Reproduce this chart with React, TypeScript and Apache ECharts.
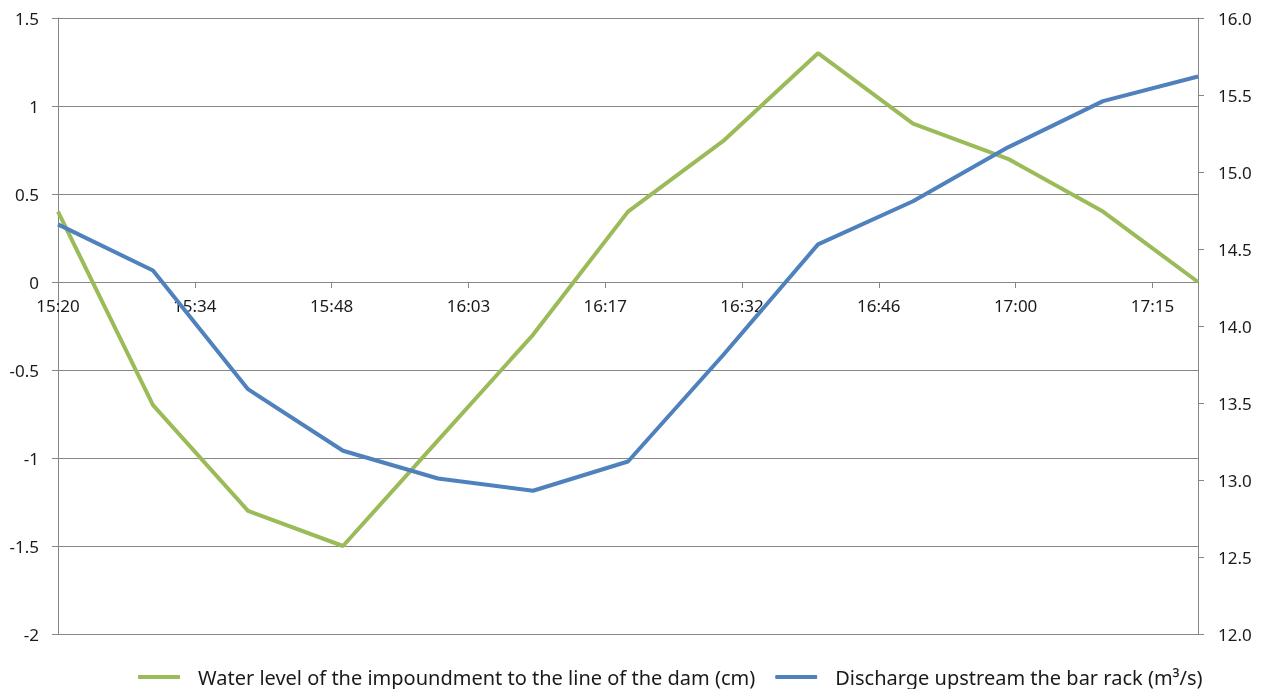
import React, { useEffect, useRef } from "react";
import * as echarts from "echarts";

const times = ["15:20", "15:30", "15:40", "15:50", "16:00", "16:10", "16:20", "16:30", "16:40", "16:50", "17:00", "17:10", "17:20"];
const waterLevel = [0.4, -0.7, -1.3, -1.5, -0.9, -0.3, 0.4, 0.8, 1.3, 0.9, 0.7, 0.4, 0.0];
const discharge = [14.66, 14.36, 13.59, 13.19, 13.01, 12.93, 13.12, 13.81, 14.53, 14.81, 15.16, 15.46, 15.62];
const seriesNames = ["Water level of the impoundment to the line of the dam (cm)", "Discharge upstream the bar rack (m³/s)"];

const START = 15 * 60 + 20;
const toMin = (t: string) => {
  const [h, m] = t.split(":").map(Number);
  return h * 60 + m - START;
};
const fmtTime = (v: number) => {
  const total = Math.floor(v + START + 1e-6);
  const h = Math.floor(total / 60);
  const m = total % 60;
  return `${h}:${m < 10 ? "0" : ""}${m}`;
};

const FONT = "Noto Sans";
const GRAY = "#868686";
const TXT = "#1a1a1a";

export default function App() {
  const ref = useRef<HTMLDivElement>(null);
  useEffect(() => {
    if (!ref.current) return;
    const chart = echarts.init(ref.current, undefined, { renderer: "svg" });
    chart.setOption({
      animation: false,
      textStyle: { fontFamily: FONT },
      grid: { left: 58, right: 73, top: 18, bottom: 55, containLabel: false },
      legend: {
        left: 138,
        top: 666,
        padding: 0,
        itemWidth: 42,
        itemHeight: 4,
        itemGap: 20,
        icon: "roundRect",
        textStyle: { fontFamily: FONT, fontSize: 20, lineHeight: 22, color: TXT, padding: [0, 0, 0, 13] },
        data: seriesNames,
      },
      xAxis: {
        type: "value",
        min: 0,
        max: 120,
        interval: 14.4,
        position: "bottom",
        offset: -352,
        axisLine: { show: true, onZero: false, lineStyle: { color: GRAY, width: 1 } },
        axisTick: { show: true, length: 6, inside: false, lineStyle: { color: GRAY } },
        axisLabel: {
          margin: 15,
          fontSize: 17,
          color: TXT,
          fontFamily: FONT,
          showMaxLabel: false,
          formatter: (v: number) => fmtTime(v),
        },
        splitLine: { show: false },
      },
      yAxis: [
        {
          type: "value",
          min: -2,
          max: 1.5,
          interval: 0.5,
          axisLine: { show: true, lineStyle: { color: GRAY } },
          axisTick: { show: true, length: 6, lineStyle: { color: GRAY } },
          axisLabel: { margin: 19, fontSize: 17, color: TXT, fontFamily: FONT },
          splitLine: { show: true, lineStyle: { color: GRAY, width: 1 } },
        },
        {
          type: "value",
          min: 12,
          max: 16,
          interval: 0.5,
          position: "right",
          axisLine: { show: true, lineStyle: { color: GRAY } },
          axisTick: { show: true, length: 6, lineStyle: { color: GRAY } },
          axisLabel: { margin: 20, fontSize: 17, color: TXT, fontFamily: FONT, formatter: (v: number) => v.toFixed(1) },
          splitLine: { show: false },
        },
      ],
      series: [
        {
          name: seriesNames[0],
          type: "line",
          yAxisIndex: 0,
          data: times.map((t, i) => [toMin(t), waterLevel[i]]),
          showSymbol: false,
          symbol: "none",
          lineStyle: { color: "#9BBB59", width: 4 },
          itemStyle: { color: "#9BBB59" },
        },
        {
          name: seriesNames[1],
          type: "line",
          yAxisIndex: 1,
          data: times.map((t, i) => [toMin(t), discharge[i]]),
          showSymbol: false,
          symbol: "none",
          lineStyle: { color: "#4F81BD", width: 4 },
          itemStyle: { color: "#4F81BD" },
        },
      ],
    });
    return () => chart.dispose();
  }, []);
  return <div ref={ref} style={{ position: "fixed", left: 0, top: 0, width: 1271, height: 689 }} />;
}
